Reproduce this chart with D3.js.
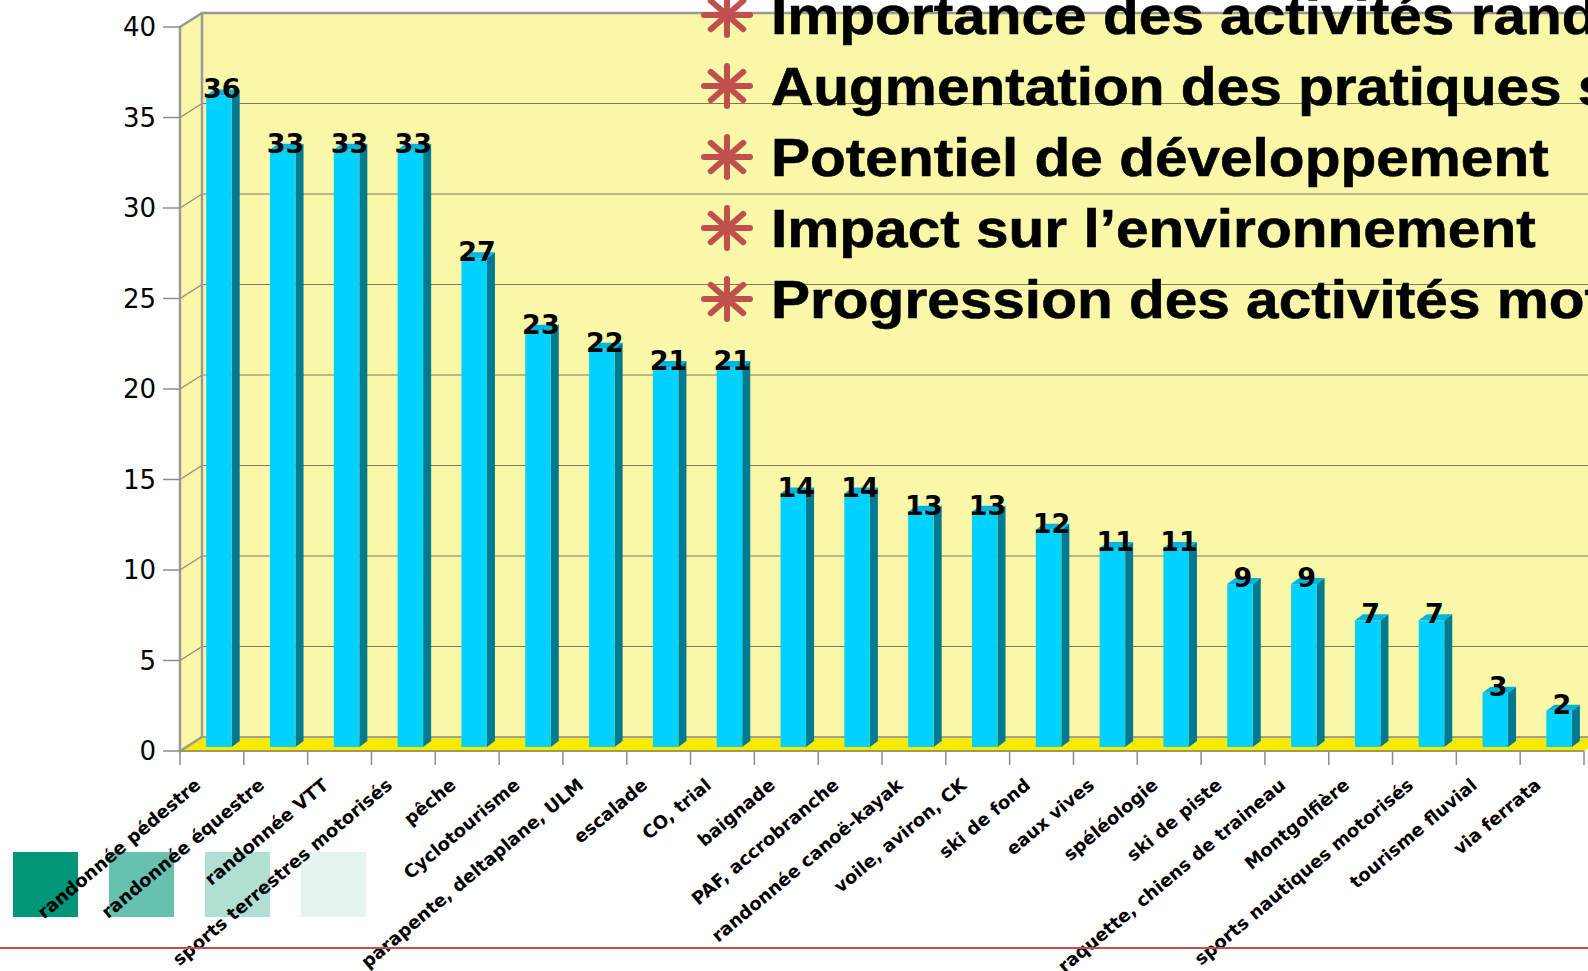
<!DOCTYPE html>
<html lang="fr">
<head>
    <meta charset="UTF-8">
    <title>Activités</title>
    <script src="https://d3js.org/d3.v7.min.js"></script>
    <style>
        body { margin: 0; background: #fff; }
        svg { display: block; }
    </style>
</head>
<body>
<div id="chart"></div>
<script>
    // data
    let categories = ['randonnée pédestre', 'randonnée équestre', 'randonnée VTT', 'sports terrestres motorisés',
        'pêche', 'Cyclotourisme', 'parapente, deltaplane, ULM', 'escalade', 'CO, trial', 'baignade',
        'PAF, accrobranche', 'randonnée canoë-kayak', 'voile, aviron, CK', 'ski de fond', 'eaux vives',
        'spéléologie', 'ski de piste', 'raquette, chiens de traineau', 'Montgolfière',
        'sports nautiques motorisés', 'tourisme fluvial', 'via ferrata'];
    let values = [36, 33, 33, 33, 27, 23, 22, 21, 21, 14, 14, 13, 13, 12, 11, 11, 9, 9, 7, 7, 3, 2];
    let yTicks = [0, 5, 10, 15, 20, 25, 30, 35, 40];
    let legendItems = ['Importance des activités randonnée', 'Augmentation des pratiques sportives',
        'Potentiel de développement', 'Impact sur l’environnement', 'Progression des activités motorisées'];
    let swatchColors = ['#009677', '#66c2ae', '#b2dfd4', '#e5f4f0'];

    let W = 1588, H = 971;
    let depthX = 22, depthY = 14;      // wall depth
    let barDx = 8, barDy = 6;          // bar depth

    let svg = d3.select('#chart')
        .append('svg')
        .attr('width', W)
        .attr('height', H);

    let x = d3.scaleBand()
        .domain(categories)
        .range([180, 1584]);
    let bw = x.bandwidth();

    let yFront = d3.scaleLinear().domain([0, 40]).range([751, 27]);
    let yBack = v => yFront(v) - depthY;
    let yBar = v => yFront(v) - 4;

    let x0 = x.range()[0], x1 = x.range()[1];

    // back wall
    svg.append('rect')
        .attr('x', x0 + depthX).attr('y', yBack(40))
        .attr('width', W - x0 - depthX).attr('height', yBack(0) - yBack(40))
        .attr('fill', '#faf7a8');
    // side wall
    svg.append('polygon')
        .attr('points', [[x0, yFront(40)], [x0 + depthX, yBack(40)], [x0 + depthX, yBack(0)], [x0, yFront(0)]].join(' '))
        .attr('fill', '#faf7a8');

    // gridlines
    let grid = yTicks.filter(t => t > 0 && t < 40);
    svg.selectAll('.gridback')
        .data(grid)
        .enter().append('line')
        .attr('x1', x0 + depthX).attr('x2', W)
        .attr('y1', d => yBack(d)).attr('y2', d => yBack(d))
        .attr('stroke', '#7d7b5c').attr('stroke-width', 1.2);
    svg.selectAll('.gridside')
        .data(grid)
        .enter().append('line')
        .attr('x1', x0).attr('y1', d => yFront(d))
        .attr('x2', x0 + depthX).attr('y2', d => yBack(d))
        .attr('stroke', '#8a8a7a').attr('stroke-width', 1.2);

    // floor
    svg.append('polygon')
        .attr('points', [[x0, yFront(0)], [x0 + depthX, yBack(0)], [x1 + depthX, yBack(0)], [x1, yFront(0)]].join(' '))
        .attr('fill', '#f9eb00');
    svg.append('line')
        .attr('x1', x0 + depthX).attr('x2', W)
        .attr('y1', yBack(0)).attr('y2', yBack(0))
        .attr('stroke', '#a0a0a0').attr('stroke-width', 2);

    // wall borders
    let border = '#9a9a9a';
    svg.append('polyline')
        .attr('points', [[x0 + depthX, yBack(0)], [x0 + depthX, yBack(40)], [W, yBack(40)]].join(' '))
        .attr('fill', 'none').attr('stroke', border).attr('stroke-width', 2.5);
    svg.append('polyline')
        .attr('points', [[x0 + depthX, yBack(40)], [x0, yFront(40)], [x0, yFront(0)], [x0 + depthX, yBack(0)]].join(' '))
        .attr('fill', 'none').attr('stroke', border).attr('stroke-width', 2.5);

    // bars
    let bars = svg.append('g')
        .selectAll('g')
        .data(categories)
        .enter().append('g');

    let bx = d => x(d) + bw * 0.41;
    let bwid = bw * 0.40;

    bars.append('polygon')
        .attr('points', (d, i) => [[bx(d) + bwid, yBar(values[i])], [bx(d) + bwid + barDx, yBar(values[i]) - barDy],
            [bx(d) + bwid + barDx, yBar(0) - barDy], [bx(d) + bwid, yBar(0)]].join(' '))
        .attr('fill', '#007a8e');
    bars.append('polygon')
        .attr('points', (d, i) => [[bx(d), yBar(values[i])], [bx(d) + barDx, yBar(values[i]) - barDy],
            [bx(d) + bwid + barDx, yBar(values[i]) - barDy], [bx(d) + bwid, yBar(values[i])]].join(' '))
        .attr('fill', '#00b4dc');
    bars.append('rect')
        .attr('x', d => bx(d))
        .attr('y', (d, i) => yBar(values[i]))
        .attr('width', bwid)
        .attr('height', (d, i) => yBar(0) - yBar(values[i]))
        .attr('fill', '#00d2ff');

    bars.append('text')
        .attr('x', d => x(d) + bw * 0.655)
        .attr('y', (d, i) => yBar(values[i]) + 3)
        .attr('text-anchor', 'middle')
        .style('font-family', '"DejaVu Sans", Verdana, sans-serif')
        .style('font-weight', 'bold')
        .style('font-size', '27px')
        .text((d, i) => values[i]);

    // y axis ticks
    svg.append('g')
        .selectAll('line')
        .data(yTicks)
        .enter().append('line')
        .attr('x1', x0 - 17).attr('x2', x0)
        .attr('y1', d => yFront(d)).attr('y2', d => yFront(d))
        .attr('stroke', '#8c8c8c').attr('stroke-width', 1.5);
    svg.append('g')
        .selectAll('text')
        .data(yTicks)
        .enter().append('text')
        .attr('x', x0 - 24)
        .attr('y', d => yFront(d))
        .attr('dy', '0.36em')
        .attr('text-anchor', 'end')
        .style('font-family', '"DejaVu Sans", Verdana, sans-serif')
        .style('font-size', '26px')
        .text(d => d);

    // x axis
    svg.append('line')
        .attr('x1', x0).attr('x2', x1)
        .attr('y1', yFront(0)).attr('y2', yFront(0))
        .attr('stroke', '#a29b52').attr('stroke-width', 2);
    let tickPos = categories.map(d => x(d)).concat([x1]);
    svg.append('g')
        .selectAll('line')
        .data(tickPos)
        .enter().append('line')
        .attr('x1', d => d).attr('x2', d => d)
        .attr('y1', yFront(0)).attr('y2', yFront(0) + 14)
        .attr('stroke', '#8c8c8c').attr('stroke-width', 1.5);

    // coloured squares behind the labels
    svg.append('g')
        .selectAll('rect')
        .data(swatchColors)
        .enter().append('rect')
        .attr('x', (d, i) => 13 + i * 96)
        .attr('y', 852)
        .attr('width', 65)
        .attr('height', 65)
        .attr('fill', d => d);

    // category labels
    svg.append('g')
        .selectAll('text')
        .data(categories)
        .enter().append('text')
        .attr('transform', d => 'translate(' + (x(d) + bw / 2 - 10) + ',787) rotate(-40)')
        .attr('text-anchor', 'end')
        .style('font-family', '"DejaVu Sans", Verdana, sans-serif')
        .style('font-weight', 'bold')
        .style('font-size', '18px')
        .text(d => d);

    // bullet text
    let legend = svg.append('g')
        .selectAll('g')
        .data(legendItems)
        .enter().append('g')
        .attr('transform', (d, i) => 'translate(0,' + (34 + i * 71) + ')');

    legend.each(function () {
        let g = d3.select(this);
        [0, 45, 90, 135].forEach(function (a) {
            let r = a * Math.PI / 180;
            g.append('line')
                .attr('x1', 727 - 23 * Math.cos(r)).attr('y1', -19 - 20 * Math.sin(r))
                .attr('x2', 727 + 23 * Math.cos(r)).attr('y2', -19 + 20 * Math.sin(r))
                .attr('stroke', '#c0504d')
                .attr('stroke-width', 6)
                .attr('stroke-linecap', 'round');
        });
    });
    // the source font is a bit wider than Liberation Sans, so stretch it
    legend.append('text')
        .attr('transform', 'translate(771,0) scale(1.105,1)')
        .style('font-family', '"Liberation Sans", Arial, sans-serif')
        .style('font-weight', 'bold')
        .style('font-size', '53px')
        .style('stroke', '#000')
        .style('stroke-width', 0.6)
        .text(d => d);

    // red rule at the bottom
    svg.append('line')
        .attr('x1', 0).attr('x2', W)
        .attr('y1', 948).attr('y2', 948)
        .attr('stroke', '#c0504d').attr('stroke-width', 2);
</script>
</body>
</html>
